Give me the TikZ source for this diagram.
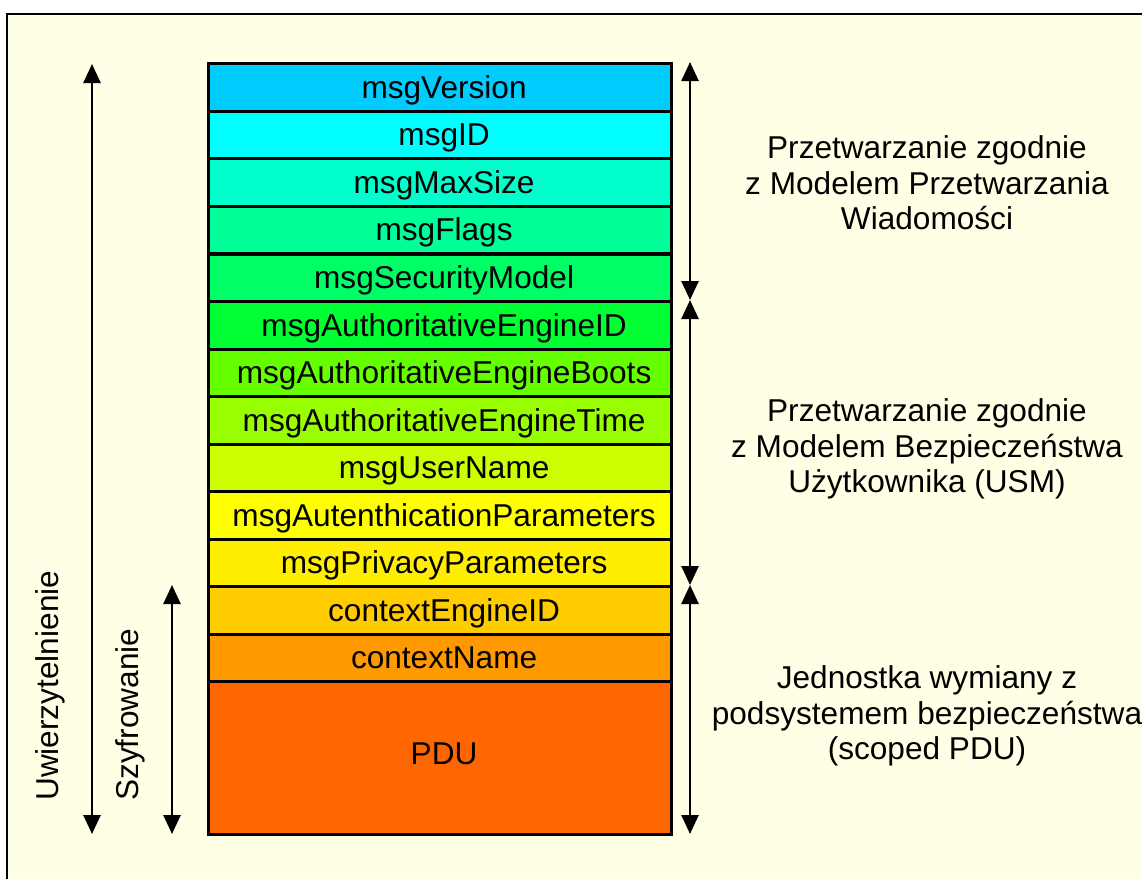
\documentclass[tikz,border=0pt]{standalone}
\usepackage{fontspec}
\setmainfont{Liberation Sans}
\usetikzlibrary{arrows.meta}
\definecolor{bg}{HTML}{FFFFE6}
\definecolor{c1}{HTML}{00CCFF}
\definecolor{c2}{HTML}{00FFFF}
\definecolor{c3}{HTML}{00FFCC}
\definecolor{c4}{HTML}{00FF99}
\definecolor{c5}{HTML}{00FF66}
\definecolor{c6}{HTML}{00FF33}
\definecolor{c7}{HTML}{66FF00}
\definecolor{c8}{HTML}{99FF00}
\definecolor{c9}{HTML}{CCFF00}
\definecolor{c10}{HTML}{FFFF00}
\definecolor{c11}{HTML}{FFEE00}
\definecolor{c12}{HTML}{FFCC00}
\definecolor{c13}{HTML}{FF9900}
\definecolor{c14}{HTML}{FF6600}
\begin{document}
\begin{tikzpicture}[x=1pt,y=-1pt,
  field/.style={draw=black, line width=3.2, minimum width=463, minimum height=47.6,
    inner sep=0, anchor=north west, font=\fontsize{31.6}{37}\selectfont,
    text height=29pt, text depth=7.6pt, execute at begin node={\hspace*{8pt}}},
  arr/.style={line width=2.6, {Triangle[width=17,length=19]}-{Triangle[width=17,length=19]}},
  lbl/.style={align=center, font=\fontsize{31.6}{35.5}\selectfont, inner sep=0},
  rot/.style={rotate=90, anchor=west, font=\fontsize{31.6}{37}\selectfont, inner sep=0}]
\useasboundingbox (0,0) rectangle (1142,878);
\fill[white] (0,0) rectangle (1142,878);
\draw[fill=bg, line width=1.5] (7,14) rectangle (1170,900);
% fields
\node[field, fill=c1] (r1) at (207,62) {msgVersion};
\node[field, fill=c2] (r2) at (207,109.6) {msgID};
\node[field, fill=c3] (r3) at (207,157.2) {msgMaxSize};
\node[field, fill=c4] (r4) at (207,204.8) {msgFlags};
\node[field, fill=c5] (r5) at (207,252.4) {msgSecurityModel};
\node[field, fill=c6] (r6) at (207,300) {msgAuthoritativeEngineID};
\node[field, fill=c7] (r7) at (207,347.5) {msgAuthoritativeEngineBoots};
\node[field, fill=c8] (r8) at (207,395) {msgAuthoritativeEngineTime};
\node[field, fill=c9] (r9) at (207,442.5) {msgUserName};
\node[field, fill=c10] (r10) at (207,490) {msgAutenthicationParameters};
\node[field, fill=c11] (r11) at (207,537.5) {msgPrivacyParameters};
\node[field, fill=c12] (r12) at (207,585) {contextEngineID};
\node[field, fill=c13] (r13) at (207,632.5) {contextName};
\node[field, fill=c14, minimum height=153, text height=20pt] (r14) at (207,680) {PDU};
% arrow end points
\coordinate (aT) at (92,64);
\coordinate (aB) at (92,834);
\coordinate (sT) at (172,585);
\coordinate (sB) at (172,834);
\coordinate (p1T) at (690,62);
\coordinate (p1B) at (690,300);
\coordinate (p2T) at (690,300);
\coordinate (p2B) at (690,585);
\coordinate (p3T) at (690,585);
\coordinate (p3B) at (690,834);
\draw[arr] (aT) -- (aB);
\draw[arr] (sT) -- (sB);
\draw[arr] (p1T) -- (p1B);
\draw[arr] (p2T) -- (p2B);
\draw[arr] (p3T) -- (p3B);
% labels
\node[rot] (uw) at (50,801) {Uwierzytelnienie};
\node[rot] (sz) at (130,801) {Szyfrowanie};
\node[lbl] (t1) at (927,183) {Przetwarzanie zgodnie\\z Modelem Przetwarzania\\Wiadomości};
\node[lbl] (t2) at (927,449) {Przetwarzanie zgodnie\\z Modelem Bezpieczeństwa\\Użytkownika (USM)};
\node[lbl] (t3) at (927,716) {Jednostka wymiany z\\podsystemem bezpieczeństwa\\(scoped PDU)};
\end{tikzpicture}
\end{document}
